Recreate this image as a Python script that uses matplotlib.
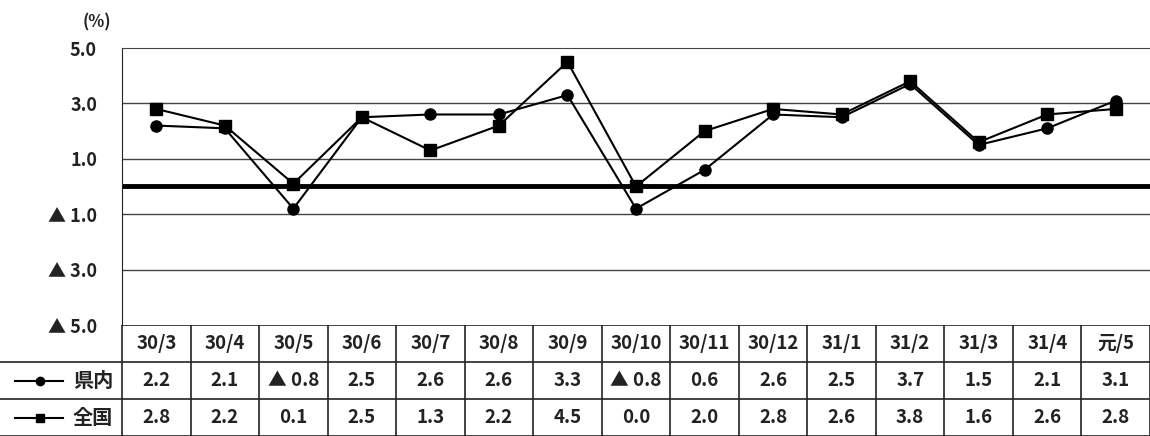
import matplotlib.pyplot as plt
from matplotlib.lines import Line2D

plt.rcParams['font.family'] = ['Noto Sans CJK JP', 'DejaVu Sans']

# data
months = ['30/3', '30/4', '30/5', '30/6', '30/7', '30/8', '30/9', '30/10',
          '30/11', '30/12', '31/1', '31/2', '31/3', '31/4', '元/5']
kennai = [2.2, 2.1, -0.8, 2.5, 2.6, 2.6, 3.3, -0.8, 0.6, 2.6, 2.5, 3.7, 1.5, 2.1, 3.1]
zenkoku = [2.8, 2.2, 0.1, 2.5, 1.3, 2.2, 4.5, 0.0, 2.0, 2.8, 2.6, 3.8, 1.6, 2.6, 2.8]
yticks = [5, 3, 1, -1, -3, -5]
ytick_labels = ['5.0', '3.0', '1.0', '▲ 1.0', '▲ 3.0', '▲ 5.0']


def fmt(v):
    if v < 0:
        return '▲ %.1f' % abs(v)
    return '%.1f' % v


W, H = 1150, 436
fig = plt.figure(figsize=(W / 100, H / 100), dpi=100)
x0, top, bot = 122, 48, 325
colw = (W - x0) / 15

# chart part
ax = fig.add_axes([x0 / W, (H - bot) / H, 1 - x0 / W, (bot - top) / H])
x = list(range(len(months)))
ax.plot(x, kennai, color='black', lw=1.5, marker='o', ms=8, zorder=3)
ax.plot(x, zenkoku, color='black', lw=1.5, marker='s', ms=8, zorder=3)
ax.axhline(0, color='black', lw=3.5, zorder=2)
for v in [3, 1, -1, -3]:
    ax.axhline(v, color='#444444', lw=1.0, zorder=1)
ax.set_xlim(-0.5, 14.5)
ax.set_ylim(-5, 5)
ax.set_xticks([])
ax.set_yticks(yticks)
ax.set_yticklabels(ytick_labels, fontsize=13, fontweight='bold', color='#222222')
ax.tick_params(axis='y', length=0, pad=18)
for s in ['right', 'bottom']:
    ax.spines[s].set_visible(False)
ax.spines['top'].set_color('#444444')
ax.spines['left'].set_color('#222222')
fig.text(97 / W, 1 - 22 / H, '(%)', ha='center', va='center',
         fontsize=12, fontweight='bold', color='#222222')

# table part
tb = fig.add_axes([0, 0, 1, (H - bot) / H])
left = -0.5 - x0 / colw
tb.set_xlim(left, 14.5)
tb.set_ylim(0, 3)
tb.axis('off')
lc = '#222222'
tb.plot([-0.5, 14.5], [3, 3], color=lc, lw=1.2)
tb.plot([left, 14.5], [2, 2], color=lc, lw=1.2)
tb.plot([left, 14.5], [1, 1], color=lc, lw=1.2)
tb.plot([left, 14.5], [0.01, 0.01], color=lc, lw=1.2)
for i in range(16):
    tb.plot([i - 0.5, i - 0.5], [0, 3], color=lc, lw=1.2)

tk = dict(ha='center', va='center', fontsize=13.5, fontweight='bold', color='#222222')
for i, m in enumerate(months):
    tb.text(i, 2.5, m, **tk)
    tb.text(i, 1.5, fmt(kennai[i]), **tk)
    tb.text(i, 0.5, fmt(zenkoku[i]), **tk)

# row labels with legend markers
lx = [left + 15 / colw, left + 63 / colw]
mx = left + 40 / colw
for yy, mk, name in [(1.5, 'o', '県内'), (0.5, 's', '全国')]:
    tb.add_line(Line2D(lx, [yy, yy], color='black', lw=1.5))
    tb.plot([mx], [yy], marker=mk, color='black', ms=6)
    tb.text(left + 93 / colw, yy, name, ha='center', va='center',
            fontsize=14.5, fontweight='bold', color='#222222')

fig.savefig('out.png', dpi=100)
